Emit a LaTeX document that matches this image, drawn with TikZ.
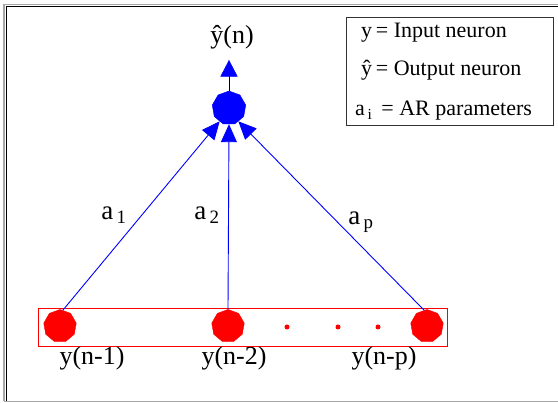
\documentclass[tikz,border=0pt]{standalone}
\usepackage{fontspec}
\setmainfont{Liberation Serif}
\usetikzlibrary{shapes.geometric,arrows.meta}
\tikzset{
  inneuron/.style={regular polygon,regular polygon sides=9,minimum size=33pt,inner sep=0pt,fill=red,draw=red},
  outneuron/.style={regular polygon,regular polygon sides=9,minimum size=34pt,inner sep=0pt,fill=blue,draw=blue},
  rdot/.style={circle,fill=red,inner sep=0pt,minimum size=5pt},
  wire/.style={blue,line width=0.9pt,-{Triangle[length=18pt,width=16pt,fill=blue]}},
  lbl/.style={font=\fontsize{26}{28}\selectfont,inner sep=0pt},
  wlbl/.style={font=\fontsize{27}{28}\selectfont,inner sep=0pt},
  leg/.style={font=\fontsize{22}{24}\selectfont,inner sep=0pt,anchor=west},
}
\begin{document}
\begin{tikzpicture}[x=1pt,y=-1pt]
\useasboundingbox (0,0) rectangle (558,403);
% frame
\draw[gray!70,line width=1.6pt] (4,401) -- (4,4.5) -- (558,4.5);
\draw[black,line width=1pt] (6.5,401) -- (6.5,6.8) -- (558,6.8);
\draw[gray!70,line width=1.6pt] (4,401.5) -- (558,401.5);
% legend
\node[draw=black!80,line width=0.8pt,minimum width=207pt,minimum height=108pt,anchor=north west] (legend) at (345.5,17.5) {};
\node[leg] (l1) at (361,33) {y\,= Input neuron};
\node[leg] (l2) at (361,70) {\^{y}\,= Output neuron};
\node[leg] (l3) at (355,111) {a\textsubscript{\,i}\, = AR parameters};
% input layer
\node[draw=red,line width=0.8pt,minimum width=409pt,minimum height=38pt,anchor=north west] (layer) at (38,308) {};
\node[inneuron] (x1) at (60,326) {};
\node[inneuron] (x2) at (228,326) {};
\node[inneuron] (xp) at (427,326) {};
\node[rdot] (d1) at (287,327) {};
\node[rdot] (d2) at (338,327) {};
\node[rdot] (d3) at (378,327) {};
\node[lbl] (t1) at (92,358) {y(n-1)};
\node[lbl] (t2) at (234,358) {y(n-2)};
\node[lbl] (tp) at (384,358) {y(n-p)};
% output
\node[outneuron] (o) at (229,108) {};
\coordinate (otop) at (229,60);
\draw[black,line width=0.8pt] (o.north) -- (229,76);
\node[isosceles triangle,isosceles triangle apex angle=55,shape border rotate=90,fill=blue,draw=blue,inner sep=0pt,minimum height=16pt,anchor=apex] (tip) at (otop) {};
\node[lbl] (yhat) at (232,37) {\^{y}(n)};
% weights
\draw[wire] (x1.80) -- (o.235);
\draw[wire] (x2.north) -- (o.south);
\draw[wire] (xp.100) -- (o.305);
\node[wlbl] (a1) at (114,215) {a\textsubscript{\,1}};
\node[wlbl] (a2) at (207,215) {a\textsubscript{\,2}};
\node[wlbl] (ap) at (361,222) {a\textsubscript{\,p}};
\end{tikzpicture}
\end{document}
